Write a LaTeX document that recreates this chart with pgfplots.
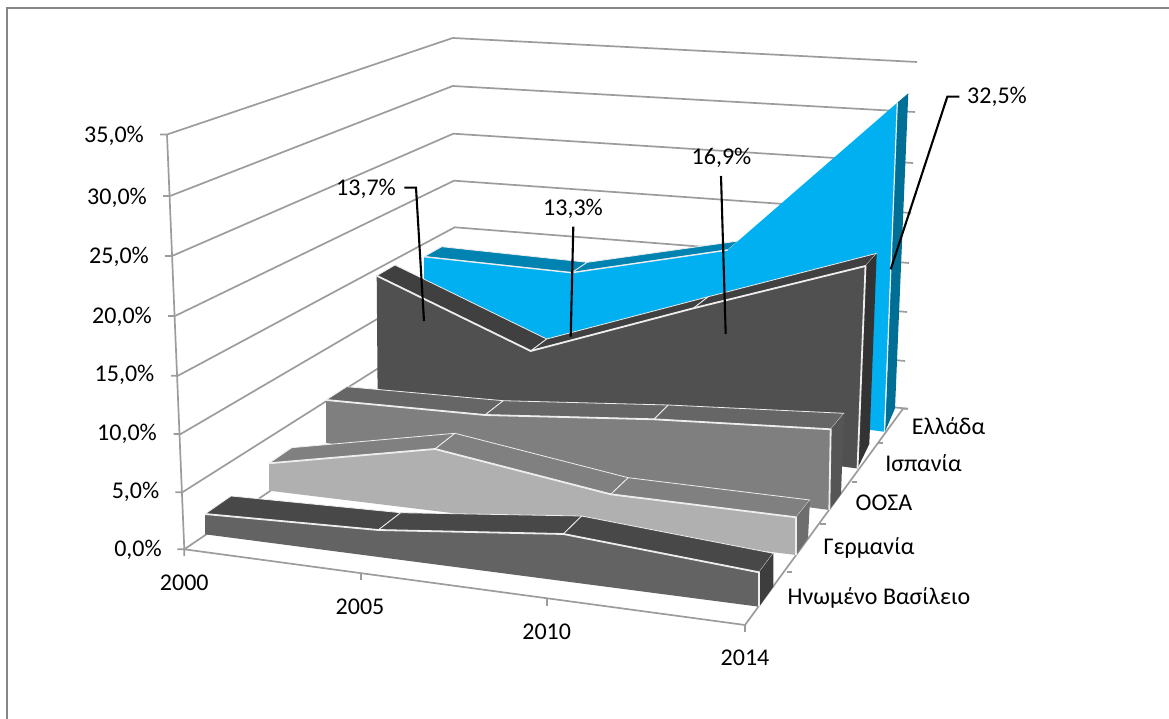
\documentclass[border=0pt]{standalone}
\usepackage{fontspec}
\setmainfont{Carlito}
\usepackage{pgfplots}
\pgfplotsset{compat=1.18}
\definecolor{gridc}{HTML}{9C9C9C}
\definecolor{borderc}{HTML}{868686}
\definecolor{edgec}{HTML}{EDEDED}
\definecolor{grF}{HTML}{00B0F0}\definecolor{grT}{HTML}{0083B0}\definecolor{grS}{HTML}{006F95}
\definecolor{esF}{HTML}{505050}\definecolor{esT}{HTML}{404040}\definecolor{esS}{HTML}{333333}
\definecolor{oeF}{HTML}{7F7F7F}\definecolor{oeT}{HTML}{666666}\definecolor{oeS}{HTML}{555555}
\definecolor{deF}{HTML}{B0B0B0}\definecolor{deT}{HTML}{808080}\definecolor{deS}{HTML}{6E6E6E}
\definecolor{ukF}{HTML}{636363}\definecolor{ukT}{HTML}{484848}\definecolor{ukS}{HTML}{3D3D3D}
\pgfplotsset{
  gl/.style={gridc,line width=1.7pt,no marks},
  face/.style={fill=#1,draw=none,no marks},
  top/.style={fill=#1,draw=edgec,line width=0.8pt,no marks,line join=round},
  hl/.style={edgec,line width=1.8pt,no marks,line join=round},
  lead/.style={black,line width=2.1pt,no marks},
}
\begin{document}
\begin{tikzpicture}[font=\fontsize{24}{28}\selectfont]
\useasboundingbox (0,0) rectangle (1169pt,719pt);
\begin{axis}[at={(0,0)},anchor=south west,width=1169pt,height=719pt,scale only axis,
  xmin=0,xmax=1169,ymin=0,ymax=719,y dir=reverse,hide axis,clip=false]
% chart frame
\addplot[borderc,line width=2pt,no marks] coordinates {(7,719) (7,8) (1169,8)};
% left wall gridlines, 35% ... 0%
\addplot[gl] coordinates {(160,134.5) (167,134.5) (452.7,38) (917,62)};
\addplot[gl] coordinates {(163,196) (170,196) (452.7,86) (915,112)};
\addplot[gl] coordinates {(165,256) (172,256) (453.3,133.7) (913,163)};
\addplot[gl] coordinates {(168,316) (175,316) (454,180.7) (911,213)};
\addplot[gl] coordinates {(171,375.7) (178,375.7) (454.7,227.3) (909,263)};
\addplot[gl] coordinates {(173.7,434) (180.7,434) (455,273.5) (907,312)};
\addplot[gl] coordinates {(175.3,492.3) (182.3,492.3) (455.3,319.5) (905,361)};
\addplot[gl] coordinates {(177.3,549.3) (184.3,549.3) (455.5,365) (908,408.7)};
% vertical axis and floor
\addplot[gl] coordinates {(167,134.5) (184.3,549.3)};
\addplot[gl] coordinates {(184.3,556) (184.3,549.3) (745,625) (903,408.7) (908,408.7)};
\addplot[gl] coordinates {(360.7,573) (360.7,580)};
\addplot[gl] coordinates {(546.7,598.7) (546.7,605.5)};
\addplot[gl] coordinates {(745,625) (745,632)};
\addplot[gl] coordinates {(786.7,571.7) (792,571.7)};
\addplot[gl] coordinates {(820,524) (826,524)};
\addplot[gl] coordinates {(851.7,481.7) (857,481.7)};
\addplot[gl] coordinates {(878,443) (883,443)};
% Ελλάδα
\addplot[top=grT] coordinates {(424,256.7) (441.7,246.7) (587.3,262.3) (571.7,272.7)} -- cycle;
\addplot[top=grT] coordinates {(571.7,272.7) (587.3,262.3) (738.3,241) (727.7,250)} -- cycle;
\addplot[fill=grS,draw=none,no marks] coordinates {(897.3,102.7) (908.3,93.3) (895,408.3) (885,431.7)} -- cycle;
\addplot[face=grF] coordinates {(424,256.7) (571.7,272.7) (727.7,250) (897.3,102.7) (884,431.7) (424,372)} -- cycle;
\addplot[hl,line width=1.4pt] coordinates {(424,256.7) (571.7,272.7) (727.7,250)};
\addplot[edgec,line width=1.2pt,no marks] coordinates {(897.3,102.7) (884.5,431.7)};
% Ισπανία
\addplot[top=esT] coordinates {(376.7,275.7) (395,265) (546.7,339) (530.7,351)} -- cycle;
\addplot[top=esT] coordinates {(530.7,351) (546.7,339) (708.3,296.7) (693.3,308.3)} -- cycle;
\addplot[top=esT] coordinates {(693.3,308.3) (708.3,296.7) (876.7,253.3) (865.5,266)} -- cycle;
\addplot[fill=esS,draw=none,no marks] coordinates {(865.5,266) (876.7,253.3) (869.3,444) (857.5,468.5)} -- cycle;
\addplot[face=esF] coordinates {(376.7,275.7) (530.7,351) (693.3,308.3) (865.5,266) (857.5,468.5) (377.7,405)} -- cycle;
\addplot[hl] coordinates {(376.7,275.7) (530.7,351) (693.3,308.3) (865.5,266) (857.5,468.5)};
% ΟΟΣΑ
\addplot[top=oeT] coordinates {(326,400) (346.7,386.7) (503.3,400.7) (485,415)} -- cycle;
\addplot[top=oeT] coordinates {(485,415) (503.3,400.7) (668.3,405) (654,419.3)} -- cycle;
\addplot[top=oeT] coordinates {(654,419.3) (668.3,405) (844,413.3) (830.7,429.3)} -- cycle;
\addplot[fill=oeS,draw=none,no marks] coordinates {(830.7,429.3) (844,413.3) (841,494) (829.3,510)} -- cycle;
\addplot[face=oeF] coordinates {(326,400) (485,415) (654,419.3) (830.7,429.3) (829.3,510) (326,443)} -- cycle;
\addplot[hl] coordinates {(326,400) (485,415) (654,419.3) (830.7,429.3) (829.3,510)};
% Γερμανία
\addplot[top=deT] coordinates {(269,463.3) (291.7,447.7) (455,433.3) (435,449)} -- cycle;
\addplot[top=deT] coordinates {(435,449) (455,433.3) (628.3,477.7) (610.7,494.3)} -- cycle;
\addplot[top=deT] coordinates {(610.7,494.3) (628.3,477.7) (810,500) (796,517.3)} -- cycle;
\addplot[fill=deS,draw=none,no marks] coordinates {(796,517.3) (810,500) (808,538) (796,555)} -- cycle;
\addplot[face=deF] coordinates {(269,463.3) (435,449) (610.7,494.3) (796,517.3) (796,555) (269,490.7)} -- cycle;
\addplot[hl] coordinates {(269,463.3) (435,449) (610.7,494.3) (796,517.3) (796,555)};
% Ηνωμένο Βασίλειο
\addplot[top=ukT] coordinates {(205,514) (231,496) (400.7,512.7) (378.3,530)} -- cycle;
\addplot[top=ukT] coordinates {(378.3,530) (400.7,512.7) (581.7,516) (563.3,534)} -- cycle;
\addplot[top=ukT] coordinates {(563.3,534) (581.7,516) (773.3,553.3) (759,572.3)} -- cycle;
\addplot[fill=ukS,draw=none,no marks] coordinates {(759,572.3) (773.3,553.3) (773.3,586.7) (759,606.7)} -- cycle;
\addplot[face=ukF] coordinates {(205,514) (378.3,530) (563.3,534) (759,572.3) (759,606.7) (205,534.3)} -- cycle;
\addplot[hl] coordinates {(205,514) (378.3,530) (563.3,534) (759,572.3) (759,606.7)};
% callout leaders
\addplot[lead] coordinates {(404.3,187.7) (416,187.7) (424,321)};
\addplot[lead] coordinates {(573.3,226.7) (570.7,336.7)};
\addplot[lead] coordinates {(721,176) (725.7,334)};
\addplot[lead] coordinates {(959.3,96.7) (947.3,96.7) (890.7,269.3)};
% value labels
\node at (axis cs:366,189) {13,7\%};
\node at (axis cs:573,209) {13,3\%};
\node at (axis cs:721.5,158) {16,9\%};
\node at (axis cs:997,97) {32,5\%};
% vertical axis labels
\node[anchor=east,inner sep=0pt] at (axis cs:144,136) {35,0\%};
\node[anchor=east,inner sep=0pt] at (axis cs:147,198) {30,0\%};
\node[anchor=east,inner sep=0pt] at (axis cs:149,257) {25,0\%};
\node[anchor=east,inner sep=0pt] at (axis cs:152,317) {20,0\%};
\node[anchor=east,inner sep=0pt] at (axis cs:154.5,375) {15,0\%};
\node[anchor=east,inner sep=0pt] at (axis cs:157,434) {10,0\%};
\node[anchor=east,inner sep=0pt] at (axis cs:159.5,492) {5,0\%};
\node[anchor=east,inner sep=0pt] at (axis cs:162,549.5) {0,0\%};
% year labels
\node at (axis cs:184.3,583) {2000};
\node at (axis cs:360,607) {2005};
\node at (axis cs:546.7,632) {2010};
\node at (axis cs:745,658) {2014};
% series labels
\node at (axis cs:948.5,426) {Ελλάδα};
\node at (axis cs:923.5,463) {Ισπανία};
\node at (axis cs:884,503) {ΟΟΣΑ};
\node at (axis cs:869,548) {Γερμανία};
\node at (axis cs:879,598) {Ηνωμένο Βασίλειο};
\end{axis}
\end{tikzpicture}
\end{document}
